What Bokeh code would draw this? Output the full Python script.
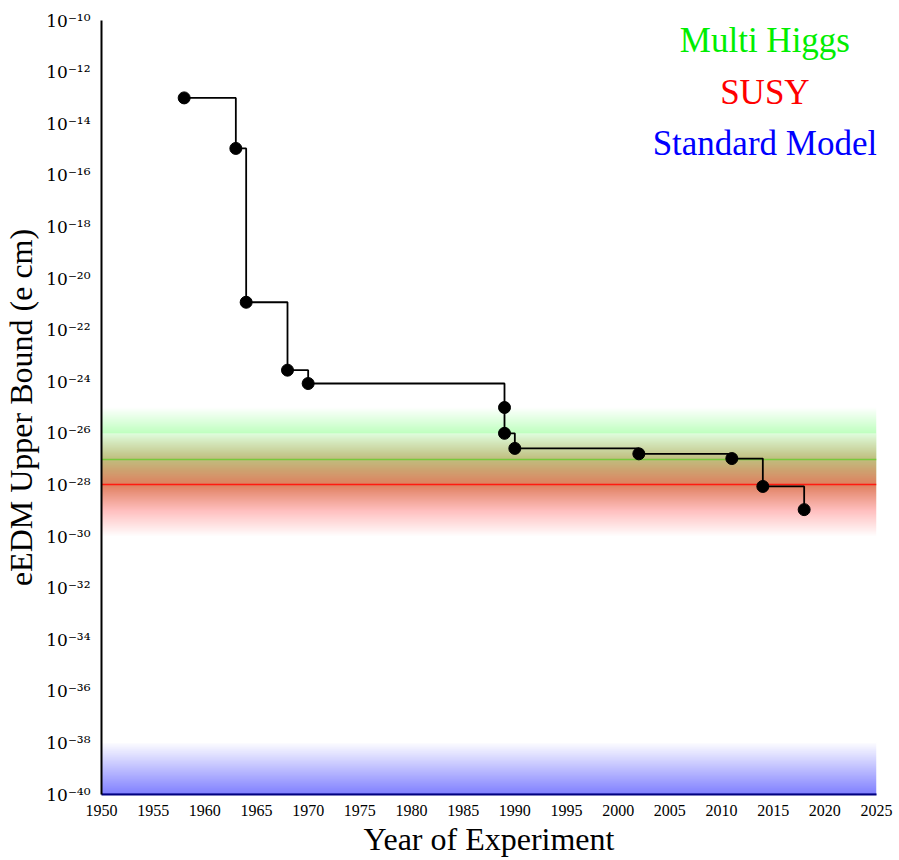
import numpy as np
from bokeh.plotting import figure
from bokeh.models import Range1d, CustomJSTickFormatter, FixedTicker, Label
from bokeh.embed import file_html
from bokeh.resources import INLINE

# ---- data ----
years = [1958, 1963, 1964, 1968, 1970, 1989, 1989, 1990, 2002, 2011, 2014, 2018]
limits = [1e-13, 1.1e-15, 1.2e-21, 2.8e-24, 8.5e-25, 1e-25, 1e-26, 2.6e-27,
          1.6e-27, 1.05e-27, 8.7e-29, 1.1e-29]
x_ticks = list(range(1950, 2026, 5))
y_exponents = list(range(-40, -9, 2))

band_names = ["Multi Higgs", "SUSY", "Standard Model"]
band_centers = [-27, -28, -40]      # log10(e cm)
band_halfwidths = [2, 2, 2]         # decades
band_colors = [(0, 255, 0), (255, 0, 0), (0, 0, 255)]
band_line_colors = ["#78c83c", "#ff1a10", "#1a1aa0"]
label_colors = ["#00ee00", "#ff0000", "#0000ff"]

X0, X1 = 1950, 2025
YLOG0, YLOG1 = -40, -10

TXT = "Liberation Serif"
TICK = "DejaVu Serif"

p = figure(frame_width=775, frame_height=774, y_axis_type="log",
           x_range=Range1d(X0, X1), y_range=Range1d(10.0 ** YLOG0, 10.0 ** YLOG1),
           output_backend="svg", toolbar_location=None,
           min_border_left=101, min_border_right=20, min_border_top=20,
           min_border_bottom=62)
p.outline_line_color = None
p.xgrid.grid_line_color = None
p.ygrid.grid_line_color = None
p.background_fill_color = "white"

# ---- gradient bands (white -> colour -> white, half transparent) ----
N = 400
for c, h, col in zip(band_centers, band_halfwidths, band_colors):
    lo = max(c - h, YLOG0)
    hi = min(c + h, YLOG1)
    edges = np.linspace(lo, hi, N + 1)
    mids = 0.5 * (edges[:-1] + edges[1:])
    f = 1 - np.abs(mids - c) / h
    img = np.zeros((N, 1), dtype=np.uint32)
    view = img.view(dtype=np.uint8).reshape((N, 1, 4))
    for k in range(3):
        view[:, 0, k] = np.round(255 * (1 - f) + col[k] * f).astype(np.uint8)
    view[:, 0, 3] = 128
    p.image_rgba(image=[img], x=X0, y=10.0 ** lo, dw=X1 - X0,
                 dh=10.0 ** hi - 10.0 ** lo, level="glyph")

# band centre lines
p.hspan(y=[10.0 ** c for c in band_centers], line_color=band_line_colors,
        line_width=1.4)

# ---- data step line and points ----
p.step(years, limits, mode="after", line_color="black", line_width=1.8)
p.scatter(years, limits, size=12, fill_color="black", line_color="black")

# ---- axes ----
p.xaxis.ticker = FixedTicker(ticks=x_ticks)
p.yaxis.ticker = FixedTicker(ticks=[10.0 ** e for e in y_exponents])
p.yaxis.formatter = CustomJSTickFormatter(code="""
const sup = {'-':'\u207b','0':'\u2070','1':'\u00b9','2':'\u00b2','3':'\u00b3',
             '4':'\u2074','5':'\u2075','6':'\u2076','7':'\u2077','8':'\u2078','9':'\u2079'};
const e = Math.round(Math.log10(tick));
return '10' + String(e).split('').map(c => sup[c]).join('');
""")
for ax in (p.xaxis[0], p.yaxis[0]):
    ax.major_tick_line_color = None
    ax.minor_tick_line_color = None
    ax.axis_line_width = 2
    ax.major_label_text_font_size = "16px"
    ax.major_label_text_color = "black"
    ax.axis_label_text_font = TXT
    ax.axis_label_text_font_style = "normal"
    ax.axis_label_text_font_size = "32px"
    ax.axis_label_text_color = "black"
p.xaxis.major_label_text_font = TXT
p.yaxis.major_label_text_font = TICK
p.yaxis.major_label_text_font_size = "17px"
p.xaxis.axis_line_color = "#000080"
p.xaxis.major_label_standoff = 4
p.yaxis.major_label_standoff = 5
p.xaxis.axis_label = "Year of Experiment"
p.yaxis.axis_label = "eEDM Upper Bound (e cm)"
p.xaxis.axis_label_standoff = 2
p.yaxis.axis_label_standoff = 4

# ---- band legend texts ----
label_y = [10 ** -10.78, 10 ** -12.79, 10 ** -14.77]
for name, col, yy in zip(band_names, label_colors, label_y):
    p.add_layout(Label(x=2014.2, y=yy, text=name, text_color=col,
                       text_font=TXT, text_font_size="35px",
                       text_align="center", text_baseline="middle"))

open("out.html", "w").write(file_html(p, INLINE))
